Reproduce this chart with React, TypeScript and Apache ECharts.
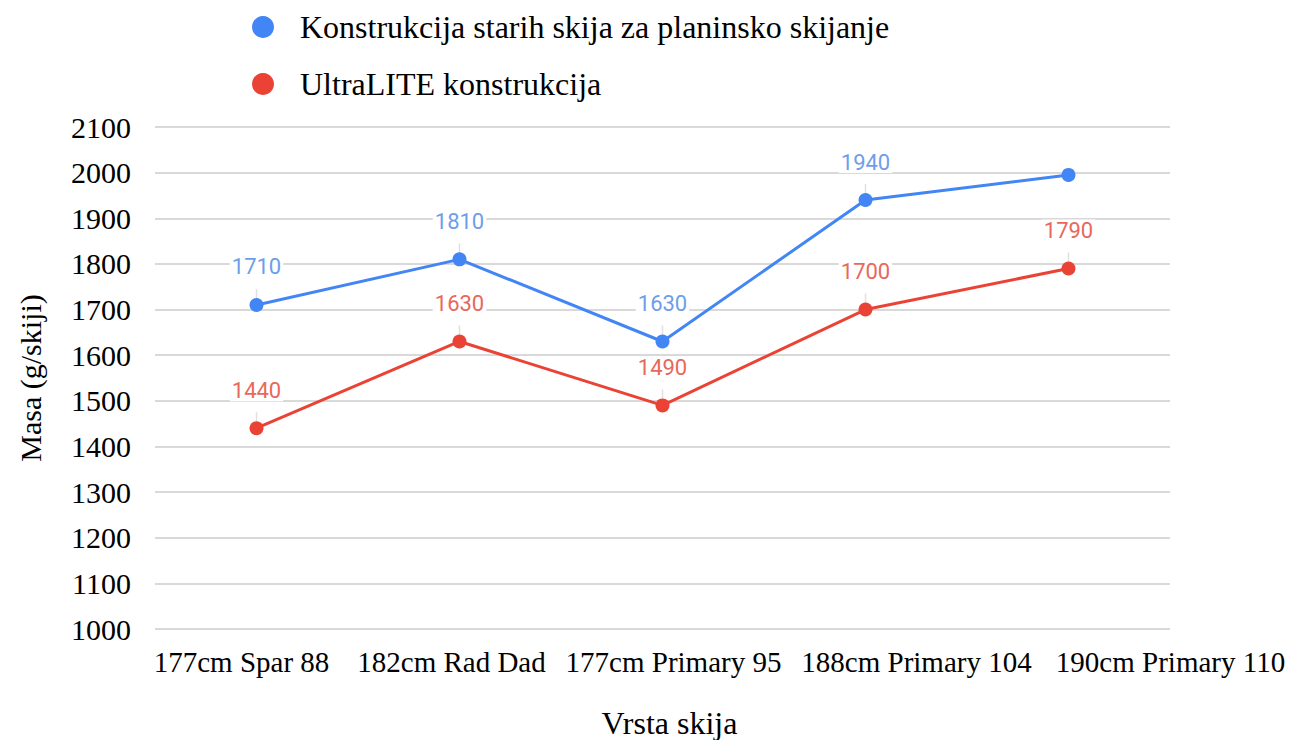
import React, { useEffect, useRef } from "react";
import * as echarts from "echarts";

const categories = ["177cm Spar 88", "182cm Rad Dad", "177cm Primary 95", "188cm Primary 104", "190cm Primary 110"];
const labelShift = [-15, -8, 11, 51, 102];
const oldSkis = [1710, 1810, 1630, 1940, 1995];
const oldSkisLabelShown = [true, true, true, true, false];
const ultraLite = [1440, 1630, 1490, 1700, 1790];
const seriesNames = ["Konstrukcija starih skija za planinsko skijanje", "UltraLITE konstrukcija"];

const SERIF = "'Liberation Serif', 'Times New Roman', serif";

export default function App() {
  const ref = useRef<HTMLDivElement>(null);
  useEffect(() => {
    if (!ref.current) return;
    const chart = echarts.init(ref.current, null, { renderer: "svg" });
    const mkLabel = (color: string) => ({
      show: true,
      position: "top",
      distance: 20,
      color,
      fontFamily: "Roboto, sans-serif",
      fontSize: 22,
      backgroundColor: "#ffffff",
      padding: [0, 2],
    });
    chart.setOption({
      animation: false,
      backgroundColor: "#ffffff",
      legend: {
        orient: "vertical",
        left: 247,
        top: 6,
        itemWidth: 22,
        itemHeight: 22,
        itemGap: 25,
        icon: "circle",
        textStyle: { fontFamily: SERIF, fontSize: 32, color: "#000", padding: [0, 0, 0, 21] },
      },
      grid: { left: 155, right: 120, top: 127, bottom: 111, outerBoundsMode: "none" },
      xAxis: {
        type: "category",
        data: categories.map((c, i) => ({
          value: c,
          textStyle: { padding: labelShift[i] >= 0 ? [0, 0, 0, labelShift[i] * 2] : [0, -labelShift[i] * 2, 0, 0] },
        })),
        boundaryGap: true,
        axisLine: { show: false },
        axisTick: { show: false },
        axisLabel: { fontFamily: SERIF, fontSize: 29, color: "#000", margin: 18, interval: 0 },
        name: "Vrsta skija",
        nameLocation: "middle",
        nameGap: 78,
        nameTextStyle: { fontFamily: SERIF, fontSize: 32, color: "#000", padding: [0, 0, 0, 14] },
      },
      yAxis: {
        type: "value",
        min: 1000,
        max: 2100,
        interval: 100,
        axisLine: { show: false },
        axisTick: { show: false },
        axisLabel: { fontFamily: SERIF, fontSize: 30, color: "#000", margin: 24, formatter: (v: number) => String(v) },
        splitLine: { lineStyle: { color: "#d9d9d9", width: 2 } },
        name: "Masa (g/skiji)",
        nameLocation: "middle",
        nameGap: 110,
        nameTextStyle: { fontFamily: SERIF, fontSize: 30, color: "#000" },
      },
      series: [
        {
          name: seriesNames[0],
          type: "line",
          data: oldSkis.map((v, i) => ({ value: v, label: { show: oldSkisLabelShown[i] } })),
          color: "#4285f4",
          lineStyle: { width: 3, color: "#4285f4" },
          symbol: "circle",
          symbolSize: 14,
          label: mkLabel("#6d9eeb"),
          labelLine: { show: true, lineStyle: { color: "#e0e0e0", width: 1.5 } },
          z: 3,
        },
        {
          name: seriesNames[1],
          type: "line",
          data: ultraLite,
          color: "#ea4335",
          lineStyle: { width: 3, color: "#ea4335" },
          symbol: "circle",
          symbolSize: 14,
          label: mkLabel("#e8685a"),
          labelLine: { show: true, lineStyle: { color: "#e0e0e0", width: 1.5 } },
          z: 2,
        },
      ],
    });
    return () => chart.dispose();
  }, []);
  return <div ref={ref} style={{ position: "fixed", left: 0, top: 0, width: 1290, height: 740 }} />;
}
